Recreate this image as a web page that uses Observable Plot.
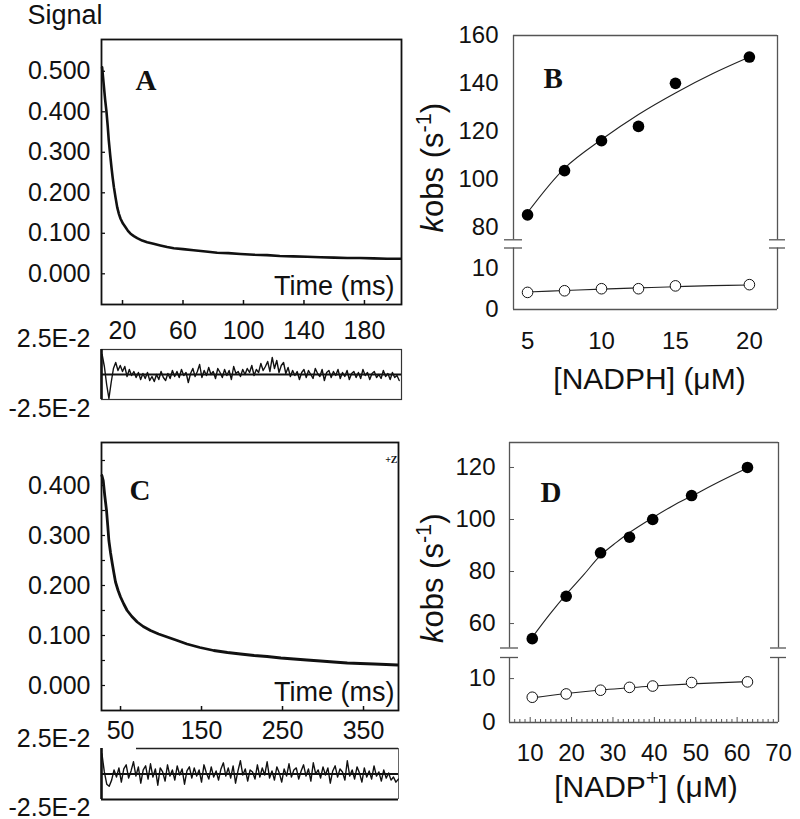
<!DOCTYPE html>
<html><head><meta charset="utf-8">
<script src="https://cdn.jsdelivr.net/npm/d3@7"></script>
<script src="https://cdn.jsdelivr.net/npm/@observablehq/plot@0.6"></script>
<style>
html,body{margin:0;padding:0;background:#fff;overflow:hidden}
#fig{position:relative;width:800px;height:819px;background:#fff}
#fig svg{position:absolute;left:0;top:0}
</style></head><body><div id="fig"></div>
<script>
// ---------------- data ----------------
// Panel A: stopped-flow trace (time ms, signal)
const aTime = [6.5,7.5,8.5,9.4,10.2,10.9,11.8,12.7,13.5,14.3,15.4,16.5,17.6,18.7,20.3,22,23.6,25.3,27.5,29.7,33,36.3,40.5,45,49.5,53.9,60,67,75,82.6,90,98,107,115.6,124,133,142,151,160,168.6,177,186,195,204];
const aSignal = [0.51,0.47,0.43,0.40,0.365,0.33,0.295,0.263,0.237,0.214,0.188,0.164,0.148,0.136,0.124,0.115,0.106,0.099,0.093,0.088,0.082,0.078,0.074,0.070,0.066,0.063,0.061,0.058,0.055,0.052,0.051,0.049,0.047,0.046,0.044,0.043,0.042,0.041,0.040,0.039,0.039,0.038,0.037,0.037];
// Panel A residuals (x1e-3), sampled every 1.5 ms from 6.5 ms
const aResidualStart = 6.5, aResidualStep = 1.5;
const aResidual = [20,8,-10,-24,-8,6,12,4,9,3,
 8,-2,5,-1,3,-3,2,-5,1,-4,
 2,-6,-2,-7,0,-5,3,-3,-6,1,
 -4,4,-2,3,-3,5,-1,2,-8,1,
 6,-2,3,10,-3,4,-1,7,0,3,
 -4,6,2,-3,5,-1,4,-5,8,1,
 3,-2,5,0,6,2,9,-1,5,2,
 11,4,8,13,3,17,6,14,2,9,
 12,1,7,-2,4,-1,3,-5,2,5,
 -3,4,0,-4,6,1,-2,5,-6,2,
 4,-3,3,-1,5,-4,2,-2,4,-5,
 1,3,-3,2,-4,5,-1,2,-5,1,
 3,-3,0,-4,4,-2,1,-5,2,-3,
 -1,-6];
const aXTicks = [20, 60, 100, 140, 180];
const aYTicks = [0, 0.1, 0.2, 0.3, 0.4, 0.5];

// Panel C: trace
const cTime = [27,28.6,30.5,32.7,34.2,35.6,37.7,39.8,41.8,43.8,47,50,54,58.2,64,70.6,78,87,97,107.6,120,132,148,165,182,198,215,231,248,264,280,297,313,330,346,363,378,392];
const cSignal = [0.42,0.41,0.38,0.35,0.32,0.29,0.265,0.244,0.225,0.207,0.19,0.177,0.163,0.15,0.138,0.127,0.118,0.11,0.103,0.097,0.09,0.083,0.076,0.070,0.066,0.063,0.060,0.058,0.055,0.053,0.051,0.049,0.047,0.045,0.044,0.043,0.042,0.041];
// Panel C residuals (x1e-3), sampled every 3 ms from 27 ms
const cResidualStart = 27, cResidualStep = 3;
const cResidual = [20,2,-10,-12,-6,4,-3,6,-8,5,
 9,-4,3,12,-2,7,-9,4,8,-5,
 10,-3,5,-11,6,2,-7,9,-2,4,
 -6,8,-1,5,-10,3,7,-4,6,-2,
 4,-8,9,1,-5,7,-3,3,-6,5,
 11,-2,6,-4,8,-9,3,13,-1,5,
 -7,4,2,-5,9,-3,6,-1,12,-4,
 3,-6,7,1,-8,5,-2,10,-3,4,
 6,-5,3,9,-2,5,-7,11,0,4,
 -4,7,-1,6,-9,3,8,-3,5,2,
 -6,13,-2,4,-5,7,1,-8,6,-3,
 3,-5,8,-2,2,-7,4,-4,1,-6,
 -3,-8,-5];
const cXTicks = [50, 150, 250, 350];
const cYTicks = [0, 0.1, 0.2, 0.3, 0.4];
const cYMinorTicks = [0, 0.05, 0.1, 0.15, 0.2, 0.25, 0.3, 0.35, 0.4, 0.45];

const residTicks = [0.025, -0.025];
const residTickLabels = ["2.5E-2", "-2.5E-2"];

// Panel B: kobs vs [NADPH]
const nadph = [5, 7.5, 10, 12.5, 15, 20];
const nadphFast = [85, 103.5, 116, 122, 140, 151];
const nadphSlow = [4.2, 4.6, 5.1, 5.1, 5.8, 6.1];
const nadphFitX = [5, 7.5, 10, 12.5, 15, 17.5, 20];
const nadphFitFast = [86, 104.5, 116.5, 127, 136, 144, 151];
const nadphFitSlow = [4.3, 4.65, 5.0, 5.3, 5.6, 5.85, 6.0];
const bXTicks = [5, 10, 15, 20];
const bYTicksUpper = [80, 100, 120, 140, 160];
const bYTicksLower = [0, 10];

// Panel D: kobs vs [NADP+]
const nadp = [10.5, 18.7, 27, 34, 39.6, 49, 62.5];
const nadpFast = [54.2, 70.5, 87.2, 93.2, 100, 109.2, 120];
const nadpSlow = [5.75, 6.5, 7.35, 8.0, 8.3, 9.1, 9.25];
const nadpFitX = [10.5, 14.8, 18.8, 22.8, 27, 30.9, 34.1, 39.6, 44.6, 49, 55.9, 62.6];
const nadpFitFast = [54.7, 63.7, 71.4, 78.5, 86.2, 91.3, 95.1, 100.7, 105.4, 109, 114.7, 119.9];
const nadpFitSlowX = [10.5, 18.7, 27, 34, 39.6, 49, 62.5];
const nadpFitSlow = [5.6, 6.6, 7.4, 7.9, 8.3, 8.8, 9.3];
const dXTicks = [10, 20, 30, 40, 50, 60, 70];
const dYTicksUpper = [60, 80, 100, 120];
const dYTicksLower = [0, 10];

const KOBS = "kobs (s-1)";
const NADPH_LABEL = "[NADPH] (\u03BCM)";
const NADP_LABEL = "[NADP+] (\u03BCM)";

// ---------------- layout ----------------
const W = 800, H = 819;
const SANS = "'Liberation Sans', Arial, Helvetica, sans-serif";
const SERIF = "'Liberation Serif', 'Times New Roman', serif";
const baseStyle = {background: "transparent", fontFamily: SANS, fontSize: "25px", color: "#111", overflow: "visible"};
const fig = document.getElementById("fig");
const add = (p) => fig.appendChild(p);
const zip = (xs, ys) => xs.map((x, i) => ({x, y: ys[i]}));
const labelLetter = (s, dx, dy) => Plot.text([s], {text: d => d, frameAnchor: "top-left", dx, dy, textAnchor: "start", lineAnchor: "middle", fontFamily: SERIF, fontWeight: "bold", fontSize: 29, fill: "#111"});

// ---- Panel A main ----
const aDomX = [6.1, 204.5], aDomY = [-0.0758, 0.5785];
add(Plot.plot({
  width: W, height: H, marginLeft: 101, marginRight: 399, marginTop: 39, marginBottom: 515,
  style: baseStyle,
  x: {domain: aDomX}, y: {domain: aDomY},
  marks: [
    Plot.frame({stroke: "#111", strokeWidth: 1.8}),
    Plot.ruleY(aYTicks, {x1: aDomX[0], x2: aDomX[0], insetRight: -4, stroke: "#111", strokeWidth: 1.3}),
    Plot.ruleX(aXTicks, {y1: aDomY[0], y2: aDomY[0], insetBottom: 4, stroke: "#111", strokeWidth: 1.5}),
    Plot.axisY(aYTicks, {tickSize: 0, tickPadding: 11, tickFormat: d3.format(".3f"), label: null}),
    Plot.axisX(aXTicks, {tickSize: 0, tickPadding: 17, label: null}),
    Plot.line(zip(aTime, aSignal), {x: "x", y: "y", stroke: "#111", strokeWidth: 2.6}),
    Plot.text(["Signal"], {text: d => d, frameAnchor: "top-left", dx: -74, dy: -24, textAnchor: "start", lineAnchor: "middle", fontSize: 27, fill: "#111"}),
    labelLetter("A", 34, 41),
    Plot.text(["Time (ms)"], {text: d => d, frameAnchor: "bottom-right", dx: -7, dy: -18, textAnchor: "end", lineAnchor: "middle", fontSize: 27, fill: "#111"})
  ]
}));

// ---- Panel A residuals ----
add(Plot.plot({
  width: W, height: H, marginLeft: 101, marginRight: 399, marginTop: 349, marginBottom: 420,
  style: baseStyle,
  x: {domain: aDomX, axis: null}, y: {domain: [-0.025, 0.025]},
  marks: [
    Plot.frame({stroke: "#333", strokeWidth: 1.2}),
    Plot.ruleX([aDomX[0]], {stroke: "#111", strokeWidth: 2.6}),
    Plot.line(aResidual.map((r, i) => ({t: aResidualStart + aResidualStep * i, r: r / 1000})), {x: "t", y: "r", stroke: "#111", strokeWidth: 1.4}),
    Plot.ruleY([0], {stroke: "#111", strokeWidth: 2.2}),
    Plot.axisY([residTicks[0]], {tickSize: 0, tickPadding: 11, dy: -11, tickFormat: () => residTickLabels[0], label: null}),
    Plot.axisY([residTicks[1]], {tickSize: 0, tickPadding: 11, dy: 9, tickFormat: () => residTickLabels[1], label: null})
  ]
}));

// ---- Panel C main ----
const cDomX = [26.5, 393.2], cDomY = [-0.05, 0.486];
add(Plot.plot({
  width: W, height: H, marginLeft: 101, marginRight: 402, marginTop: 442, marginBottom: 109,
  style: baseStyle,
  x: {domain: cDomX}, y: {domain: cDomY},
  marks: [
    Plot.frame({stroke: "#111", strokeWidth: 1.8}),
    Plot.ruleY(cYMinorTicks, {x1: cDomX[0], x2: cDomX[0], insetRight: -4, stroke: "#111", strokeWidth: 1.2}),
    Plot.ruleX(cXTicks, {y1: cDomY[0], y2: cDomY[0], insetBottom: 4, stroke: "#111", strokeWidth: 1.5}),
    Plot.axisY(cYTicks, {tickSize: 0, tickPadding: 11, tickFormat: d3.format(".3f"), label: null}),
    Plot.axisX(cXTicks, {tickSize: 0, tickPadding: 11, label: null}),
    Plot.line(zip(cTime, cSignal), {x: "x", y: "y", stroke: "#111", strokeWidth: 2.8}),
    labelLetter("C", 28, 48),
    Plot.text(["+Z"], {text: d => d, frameAnchor: "top-right", dx: -1, dy: 17, textAnchor: "end", lineAnchor: "middle", fontSize: 10, fontFamily: SERIF, fontWeight: "bold", fill: "#111"}),
    Plot.text(["Time (ms)"], {text: d => d, frameAnchor: "bottom-right", dx: -4, dy: -18, textAnchor: "end", lineAnchor: "middle", fontSize: 27, fill: "#111"})
  ]
}));

// ---- Panel C residuals ----
add(Plot.plot({
  width: W, height: H, marginLeft: 101, marginRight: 402, marginTop: 748, marginBottom: 20,
  style: baseStyle,
  x: {domain: cDomX, axis: null}, y: {domain: [-0.025, 0.025]},
  marks: [
    Plot.ruleY([0.025], {insetLeft: 35, stroke: "#222", strokeWidth: 1.3}),
    Plot.ruleY([-0.025], {stroke: "#111", strokeWidth: 2}),
    Plot.ruleX([cDomX[1]], {stroke: "#666", strokeWidth: 1}),
    Plot.ruleX([cDomX[0]], {stroke: "#111", strokeWidth: 2.6}),
    Plot.line(cResidual.map((r, i) => ({t: cResidualStart + cResidualStep * i, r: r / 1000})), {x: "t", y: "r", stroke: "#111", strokeWidth: 1.4}),
    Plot.ruleY([0], {stroke: "#111", strokeWidth: 2.2}),
    Plot.axisY([residTicks[0]], {tickSize: 0, tickPadding: 11, dy: -10, tickFormat: () => residTickLabels[0], label: null}),
    Plot.axisY([residTicks[1]], {tickSize: 0, tickPadding: 11, dy: 8, tickFormat: () => residTickLabels[1], label: null})
  ]
}));

// ---- Broken-axis kinetics panel: upper (fast phase) and lower (slow phase) plots ----
const FRAME = "#555";
function brokenPanel(o) {
  const [x0, x1] = o.domX;
  const common = {width: W, height: H, marginLeft: o.ml, marginRight: o.mr, style: {...baseStyle, fontSize: "24px"}};
  const sides = (dom) => [
    Plot.ruleX([x0, x1], {y1: dom[0], y2: dom[1], stroke: FRAME, strokeWidth: 1.3}),
  ];
  const breakMarks = (v) => [
    Plot.ruleY([v], {x1: x0, x2: x0, insetLeft: -9, insetRight: -9, stroke: FRAME, strokeWidth: 1.3}),
    Plot.ruleY([v], {x1: x1, x2: x1, insetLeft: -8, insetRight: -8, stroke: FRAME, strokeWidth: 1.3})
  ];
  const upper = Plot.plot({
    ...common, marginTop: o.upperTop, marginBottom: H - o.upperBottom,
    x: {domain: o.domX, axis: null}, y: {domain: o.upperDom},
    marks: [
      ...sides(o.upperDom),
      Plot.ruleY([o.upperDom[1]], {stroke: FRAME, strokeWidth: 1.3}),
      ...breakMarks(o.upperDom[0]),
      ...(o.upperExtra || []),
      Plot.axisY(o.yTicksUpper, {tickSize: 0, tickPadding: o.yPad, label: null}),
      Plot.line(zip(o.fitX, o.fitFast), {x: "x", y: "y", stroke: "#222", strokeWidth: 1.1, curve: "catmull-rom"}),
      Plot.dot(zip(o.x, o.fast), {x: "x", y: "y", r: 5.8, fill: "#000", stroke: "none"}),
      labelLetter(o.letter, o.lx, o.ly),
      Plot.text([KOBS], {text: d => d, frameAnchor: "left", dx: o.ylx, dy: o.yly, rotate: -90, textAnchor: "middle", lineAnchor: "middle", fontSize: 31, fill: "#111"})
    ]
  });
  const lower = Plot.plot({
    ...common, marginTop: o.lowerTop, marginBottom: H - o.lowerBottom,
    x: {domain: o.domX}, y: {domain: o.lowerDom},
    marks: [
      ...sides(o.lowerDom),
      Plot.ruleY([o.lowerDom[0]], {stroke: FRAME, strokeWidth: 1.3}),
      ...breakMarks(o.lowerDom[1]),
      ...(o.lowerExtra || []),
      Plot.axisY(o.yTicksLower, {tickSize: 0, tickPadding: o.yPad, label: null}),
      Plot.axisX(o.xTicks, {tickSize: 0, tickPadding: o.xPad, label: null}),
      Plot.line(zip(o.fitSlowX, o.fitSlow), {x: "x", y: "y", stroke: "#222", strokeWidth: 1.1, curve: "catmull-rom"}),
      Plot.dot(zip(o.x, o.slow), {x: "x", y: "y", r: 5.3, fill: "#fff", stroke: "#111", strokeWidth: 1}),
      Plot.text([o.xLabel], {text: d => d, frameAnchor: "bottom", dx: o.xlx, dy: o.xly, textAnchor: "middle", lineAnchor: "middle", fontSize: 30, fill: "#111"})
    ]
  });
  add(upper); add(lower);
}

// ---- Panel B ----
brokenPanel({
  domX: [4.05, 21.9], ml: 513, mr: 23,
  upperDom: [74.6, 160], upperTop: 35, upperBottom: 239.3,
  lowerDom: [0, 15.1], lowerTop: 247.5, lowerBottom: 309,
  yTicksUpper: bYTicksUpper, yTicksLower: bYTicksLower, xTicks: bXTicks, yPad: 15, xPad: 22,
  x: nadph, fast: nadphFast, slow: nadphSlow,
  fitX: nadphFitX, fitFast: nadphFitFast, fitSlowX: nadphFitX, fitSlow: nadphFitSlow,
  letter: "B", lx: 30, ly: 43,
  xLabel: NADPH_LABEL, xlx: 4, xly: 70,
  ylx: -80, yly: 30
});

// ---- Panel D ----
const dDomX = [5, 70];
const dMinor = d3.range(6.25, 70, 1.25).filter(v => !dXTicks.includes(v));
const dLowerDom = [0, 14.8], dUpperDom = [50.6, 129.6];
brokenPanel({
  domX: dDomX, ml: 509, mr: 22,
  upperDom: dUpperDom, upperTop: 442, upperBottom: 647.5,
  lowerDom: dLowerDom, lowerTop: 657, lowerBottom: 722,
  yTicksUpper: dYTicksUpper, yTicksLower: dYTicksLower, xTicks: dXTicks, yPad: 14, xPad: 21,
  x: nadp, fast: nadpFast, slow: nadpSlow,
  fitX: nadpFitX, fitFast: nadpFitFast, fitSlowX: nadpFitSlowX, fitSlow: nadpFitSlow,
  letter: "D", lx: 31, ly: 50,
  xLabel: NADP_LABEL, xlx: 2, xly: 65,
  ylx: -76, yly: 33,
  upperExtra: [
    Plot.ruleY(dYTicksUpper, {x1: dDomX[0], x2: dDomX[0], insetRight: -5, stroke: FRAME, strokeWidth: 1})
  ],
  lowerExtra: [
    Plot.ruleX(dMinor, {y1: dLowerDom[0], y2: dLowerDom[0], insetBottom: 3, stroke: FRAME, strokeWidth: 1}),
    Plot.ruleX(dXTicks, {y1: dLowerDom[0], y2: dLowerDom[0], insetBottom: 5, stroke: FRAME, strokeWidth: 1}),
    Plot.ruleY(dYTicksLower.slice(1), {x1: dDomX[0], x2: dDomX[0], insetRight: -5, stroke: FRAME, strokeWidth: 1})
  ]
});

// ---- rich text (italic k, superscripts) ----
d3.selectAll("#fig text").each(function () {
  const t = this.textContent;
  if (t === KOBS) {
    this.innerHTML = '<tspan font-style="italic">k</tspan>obs (s<tspan baseline-shift="super" font-size="70%">-1</tspan>)';
  } else if (t === NADP_LABEL) {
    this.innerHTML = '[NADP<tspan baseline-shift="super" font-size="75%">+</tspan>] (\u03BCM)';
  }
});
</script></body></html>
